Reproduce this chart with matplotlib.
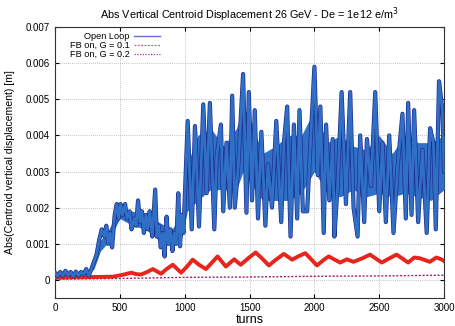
import matplotlib
matplotlib.use("Agg")
import matplotlib.pyplot as plt
import matplotlib.patheffects as pe

plt.rcParams["font.family"] = ["Liberation Sans", "DejaVu Sans"]

title = "Abs Vertical Centroid Displacement 26 GeV - De = 1e12 e/m$^3$"
xlabel = "turns"
ylabel = "Abs(Centroid vertical displacement) [m]"
labels = ["Open Loop", "FB on, G = 0.1", "FB on, G = 0.2"]

x_ticks = [0, 500, 1000, 1500, 2000, 2500, 3000]
y_ticks = [0, 0.001, 0.002, 0.003, 0.004, 0.005, 0.006, 0.007]
y_tick_labels = ["0", "0.001", "0.002", "0.003", "0.004", "0.005", "0.006", "0.007"]

# Open loop (blue) - peaks and troughs
open_turns = [0, 20, 40, 60, 80, 100, 120, 140, 160, 180, 200, 220, 240, 260,
              280, 300, 320, 340, 360, 380, 395, 410, 425, 440, 460, 476, 490,
              505, 520, 540, 555, 575, 590, 610, 625, 640, 655, 670, 685, 700,
              715, 730, 750, 772, 785, 800, 815, 830, 845, 860, 875, 890, 905,
              920, 935, 950, 964, 975, 990,
              1023, 1054, 1079, 1110, 1143, 1169, 1194, 1228, 1246, 1279, 1297,
              1322, 1348, 1366, 1386, 1412, 1450, 1476, 1494, 1519, 1540, 1565,
              1591, 1622, 1642, 1673, 1706, 1744, 1765, 1790, 1816, 1842, 1867,
              1885, 1911, 1944, 1970, 2000, 2026, 2046, 2072, 2090, 2115, 2141,
              2154, 2179, 2210, 2243, 2276, 2302, 2333, 2353, 2384, 2405, 2436,
              2469, 2500, 2525, 2551, 2577, 2610, 2641, 2679, 2705, 2723, 2749,
              2769, 2800, 2833, 2866, 2892, 2918, 2936, 2961, 2987, 3000]
open_vals = [0.0002, 0.0001, 0.00022, 0.00012, 0.00025, 0.00013, 0.00022, 0.0001,
             0.00023, 0.00012, 0.00022, 0.00015, 0.0003, 0.00012,
             0.0003, 0.0005, 0.0007, 0.0011, 0.0014, 0.0012, 0.0015, 0.0010,
             0.0013, 0.0009, 0.0018, 0.0021, 0.0017, 0.0021, 0.0018, 0.0021,
             0.0017, 0.0019, 0.0014, 0.0017, 0.0015, 0.0022, 0.0016, 0.0019,
             0.0013, 0.0018, 0.0014, 0.0019, 0.0012, 0.0025, 0.0012, 0.0015,
             0.0009, 0.0013, 0.00065, 0.00175, 0.0010, 0.0014, 0.0008, 0.0013,
             0.0010, 0.0024, 0.00093, 0.0018, 0.0013,
             0.0044, 0.0014, 0.00426, 0.00148, 0.00486, 0.0024, 0.0049, 0.0014,
             0.0034, 0.0043, 0.0019, 0.0038, 0.0020, 0.0051, 0.0020, 0.0031,
             0.0057, 0.00186, 0.0052, 0.0022, 0.0047, 0.0017, 0.0041, 0.0015,
             0.0032, 0.0020, 0.0044, 0.0016, 0.0038, 0.0048, 0.0012, 0.0043,
             0.0017, 0.0047, 0.0019, 0.0019, 0.0038, 0.0059, 0.0029, 0.0048,
             0.0013, 0.0043, 0.0022, 0.0039, 0.0012, 0.0026, 0.0052, 0.0021,
             0.0052, 0.0020, 0.0012, 0.0040, 0.0016, 0.0039, 0.0026, 0.0052,
             0.0019, 0.0038, 0.0016, 0.0040, 0.0013, 0.0031, 0.0046, 0.0017,
             0.0049, 0.0018, 0.0047, 0.0016, 0.0036, 0.0013, 0.0042, 0.0038,
             0.0014, 0.0055, 0.0047, 0.0030]

# Dense core of the open-loop band (where the fast oscillation fills the area)
core_turns = [0, 250, 300, 350, 400, 500, 600, 700, 800, 900, 980, 1020, 1100,
              1200, 1300, 1400, 1450, 1500, 1600, 1700, 1800, 1900, 2000, 2100,
              2200, 2300, 2400, 2500, 2600, 2700, 2800, 2900, 3000]
core_lo = [0.00012, 0.00014, 0.0003, 0.0008, 0.0010, 0.0017, 0.0015, 0.0014,
           0.0011, 0.0010, 0.0012, 0.0019, 0.0022, 0.0025, 0.0025, 0.0025,
           0.0030, 0.0027, 0.0022, 0.0022, 0.0022, 0.0024, 0.0030, 0.0024,
           0.0023, 0.0025, 0.0023, 0.0024, 0.0023, 0.0024, 0.0023, 0.0022,
           0.0025]
core_hi = [0.00022, 0.00022, 0.0004, 0.0011, 0.0013, 0.0020, 0.0019, 0.0018,
           0.0016, 0.0014, 0.0018, 0.0032, 0.0040, 0.0042, 0.0037, 0.0042,
           0.0048, 0.0045, 0.0035, 0.0037, 0.0040, 0.0040, 0.0047, 0.0038,
           0.0040, 0.0037, 0.0036, 0.0040, 0.0035, 0.0040, 0.0038, 0.0038,
           0.0040]

# FB on, G = 0.1 (red)
g01_turns = [0, 150, 300, 447, 520, 588, 625, 665, 710, 754, 818, 860, 908, 972,
             1020, 1061, 1110, 1163, 1210, 1253, 1317, 1381, 1432, 1490, 1547,
             1600, 1649, 1700, 1764, 1828, 1880, 1930, 2020, 2070, 2110, 2199,
             2250, 2301, 2370, 2429, 2519, 2580, 2634, 2723, 2770, 2813, 2890,
             2940, 2979, 3000]
g01_vals = [0.00006, 0.00007, 0.00008, 0.00009, 0.00014, 0.0002, 0.00016, 0.00015,
            0.00022, 0.0003, 0.00017, 0.0003, 0.00042, 0.0002, 0.00038, 0.00056,
            0.00042, 0.0003, 0.00048, 0.00065, 0.00037, 0.00057, 0.00042, 0.0006,
            0.00076, 0.00058, 0.0004, 0.00055, 0.00072, 0.00056, 0.00066, 0.00074,
            0.0004, 0.00055, 0.00065, 0.00048, 0.00057, 0.0005, 0.0006, 0.0007,
            0.00048, 0.0006, 0.0007, 0.00048, 0.00062, 0.0006, 0.0005, 0.00062,
            0.00057, 0.00052]

# FB on, G = 0.2 (purple)
g02_turns = [0, 500, 1000, 1500, 2000, 2500, 3000]
g02_vals = [0.00002, 0.00004, 0.00007, 0.00008, 0.0001, 0.00011, 0.00013]

fig = plt.figure(figsize=(4.55, 3.26), dpi=100)
ax = fig.add_axes([0.121, 0.086, 0.855, 0.831])

blue_in = "#2f6fc6"
blue_edge = "#1e2f8e"

ax.plot(g02_turns, g02_vals, color="#a0206a", lw=1.0, ls=(0, (1.5, 1.2)),
        zorder=2)
ax.plot(g01_turns, g01_vals, color="#e8241c", lw=2.8, zorder=3)
ax.fill_between(core_turns, core_lo, core_hi, color=blue_in, lw=0, zorder=3.5)
ax.plot(open_turns, open_vals, color=blue_in, lw=2.0, zorder=4,
        path_effects=[pe.Stroke(linewidth=3.0, foreground=blue_edge), pe.Normal()])

# legend handles styled like reference
h_open, = ax.plot([], [], color="#6a6ad0", lw=1.0)
h_g01, = ax.plot([], [], color="#e8507a", lw=0.9, ls=(0, (1.5, 1.2)))
h_g02, = ax.plot([], [], color="#b03080", lw=0.9, ls=(0, (1, 1.2)))
leg = ax.legend([h_open, h_g01, h_g02], labels, loc="upper left",
                bbox_to_anchor=(0.025, 1.0), frameon=False, markerfirst=False,
                fontsize=6.6, handlelength=2.8, handletextpad=0.5,
                labelspacing=0.0, borderaxespad=0.15)
for t in leg.get_texts():
    t.set_ha("right")
leg._legend_box.align = "right"

ax.set_xlim(0, 3000)
ax.set_ylim(-0.0005, 0.007)
ax.set_xticks(x_ticks)
ax.set_xticklabels([str(v) for v in x_ticks])
ax.set_yticks(y_ticks)
ax.set_yticklabels(y_tick_labels)
ax.tick_params(direction="in", top=True, right=True, labelsize=7, length=3)
ax.grid(True, color="#b0b0b0", ls=(0, (1, 1.5)), lw=0.6)
ax.set_axisbelow(True)
for s in ax.spines.values():
    s.set_color("#333333")
    s.set_linewidth(0.8)

ax.set_title(title, fontsize=7.8, pad=6)
ax.set_xlabel(xlabel, fontsize=9, labelpad=1)
ax.set_ylabel(ylabel, fontsize=7.6, labelpad=8)

fig.savefig("out.png", dpi=100)
